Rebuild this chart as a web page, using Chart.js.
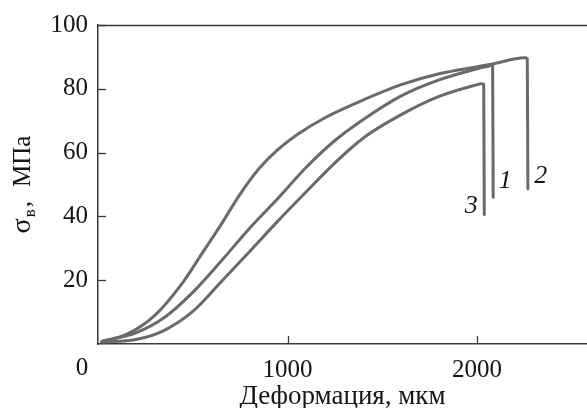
<!DOCTYPE html>
<html>
<head>
<meta charset="utf-8">
<script src="https://cdn.jsdelivr.net/npm/chart.js@4.4.0/dist/chart.umd.min.js"></script>
<style>
  html, body { margin: 0; padding: 0; background: #ffffff; }
  #wrap { width: 587px; height: 408px; }
</style>
</head>
<body>
<div id="wrap"><canvas id="c" width="587" height="408"></canvas></div>
<script>
// ---- data (strain, µm ; stress, MPa) ----
const curveNames = ['1', '2', '3'];
const strain1 = [20, 200, 350, 500, 650, 800, 950, 1100, 1250, 1400, 1600, 1800, 2000, 2066, 2082, 2085];
const stress1 = [0.8, 3.5, 8.3, 16.2, 26, 36.3, 45.7, 55.5, 63.8, 70.4, 77.8, 82.8, 86.3, 87.2, 87.5, 46];
const strain2 = [20, 150, 300, 450, 550, 650, 750, 850, 950, 1050, 1200, 1400, 1600, 1800, 2000, 2082, 2251, 2265, 2268];
const stress2 = [0.8, 3.0, 9.0, 19.5, 28.5, 37.5, 47, 55, 61, 65.6, 71, 76.5, 81.3, 84.7, 86.9, 87.8, 89.7, 89.4, 48.7];
const strain3 = [20, 200, 350, 500, 650, 800, 950, 1100, 1250, 1400, 1600, 1800, 2000, 2020, 2035, 2038];
const stress3 = [0.6, 1.4, 4.3, 10.2, 19.5, 29, 38.6, 47.8, 56.8, 64.6, 71.9, 77.6, 81.3, 81.6, 81.4, 40.6];
const xTicks = [0, 1000, 2000];
const yTicks = [0, 20, 40, 60, 80, 100];
const xTitle = 'Деформация, мкм';
const yTitleMain = 'σ';
const yTitleSub = 'в';
const yTitleComma = ',';
const yTitleUnit = 'МПа';

const AXIS = '#3a3a3a';
const LINE = '#6a6a6a';
const TEXT = '#151515';
const FONT = '"Liberation Serif", "Times New Roman", serif';

function pts(xs, ys) { return xs.map((x, i) => ({ x: x, y: ys[i] })); }

const series = [
  { name: curveNames[0], data: pts(strain1, stress1), lab: [12, -16] },
  { name: curveNames[1], data: pts(strain2, stress2), lab: [13, -12] },
  { name: curveNames[2], data: pts(strain3, stress3), lab: [-13, -8] }
];

const decor = {
  id: 'decor',
  afterDraw(chart) {
    const ctx = chart.ctx, a = chart.chartArea;
    const xs = chart.scales.x, ys = chart.scales.y;
    ctx.save();
    // top frame line
    ctx.strokeStyle = AXIS; ctx.lineWidth = 1.5;
    ctx.beginPath(); ctx.moveTo(a.left, a.top + 0.5); ctx.lineTo(a.right, a.top + 0.5); ctx.stroke();
    // inward ticks
    ctx.lineWidth = 1.3;
    xTicks.forEach(v => {
      if (v === 0) return;
      const px = Math.round(xs.getPixelForValue(v)) + 0.5;
      ctx.beginPath(); ctx.moveTo(px, a.bottom); ctx.lineTo(px, a.bottom - 8); ctx.stroke();
    });
    yTicks.forEach(v => {
      if (v === 0) return;
      const py = Math.round(ys.getPixelForValue(v)) + 0.5;
      ctx.beginPath(); ctx.moveTo(a.left, py); ctx.lineTo(a.left + 8, py); ctx.stroke();
    });
    // origin label "0"
    ctx.fillStyle = TEXT;
    ctx.font = '25px ' + FONT;
    ctx.textAlign = 'center'; ctx.textBaseline = 'middle';
    ctx.fillText('0', xs.getPixelForValue(0) - 16, a.bottom + 24);
    // y title with subscript (rotated)
    ctx.save();
    ctx.translate(30, (a.top + a.bottom) / 2);
    ctx.rotate(-Math.PI / 2);
    const fMain = '25px ' + FONT, fBig = '28px ' + FONT, fSub = '17px ' + FONT;
    ctx.font = fBig; const w1 = ctx.measureText(yTitleMain).width;
    ctx.font = fSub; const w2 = ctx.measureText(yTitleSub).width;
    ctx.font = fMain; const w3 = ctx.measureText(yTitleComma).width;
    const w4 = ctx.measureText(yTitleUnit).width;
    const gap = 14;
    let x0 = -(w1 + 1 + w2 + 2 + w3 + gap + w4) / 2;
    ctx.textAlign = 'left'; ctx.textBaseline = 'alphabetic';
    ctx.font = fBig; ctx.fillText(yTitleMain, x0, 0); x0 += w1 + 1;
    ctx.font = fSub; ctx.fillText(yTitleSub, x0, 5); x0 += w2 + 2;
    ctx.font = fMain; ctx.fillText(yTitleComma, x0, 0); x0 += w3 + gap;
    ctx.fillText(yTitleUnit, x0, 0);
    ctx.restore();
    // curve numbers at the end of each curve
    ctx.font = 'italic 26px ' + FONT;
    ctx.textAlign = 'center'; ctx.textBaseline = 'middle';
    series.forEach(s => {
      const last = s.data[s.data.length - 1];
      const px = xs.getPixelForValue(last.x) + s.lab[0];
      const py = ys.getPixelForValue(last.y) + s.lab[1];
      ctx.fillText(s.name, px, py);
    });
    ctx.restore();
  }
};

new Chart(document.getElementById('c'), {
  type: 'line',
  data: {
    datasets: series.map(s => ({
      label: s.name,
      data: s.data,
      borderColor: LINE,
      borderWidth: 3,
      pointRadius: 0,
      fill: false,
      cubicInterpolationMode: 'monotone',
      borderJoinStyle: 'round',
      borderCapStyle: 'round'
    }))
  },
  options: {
    responsive: false,
    animation: false,
    devicePixelRatio: 1,
    layout: { padding: { top: 24, right: 0, left: 0, bottom: 0 } },
    plugins: { legend: { display: false }, tooltip: { enabled: false } },
    scales: {
      x: {
        type: 'linear', min: 0, max: 2580,
        afterFit(s) { s.height = 64; },
        afterBuildTicks(s) { s.ticks = xTicks.map(v => ({ value: v })); },
        grid: { display: false, drawTicks: false },
        border: { display: true, color: AXIS, width: 1.5 },
        ticks: {
          padding: 11, color: TEXT, font: { family: FONT, size: 25 },
          maxRotation: 0,
          callback: v => (v === 0 ? '' : String(v))
        },
        title: {
          display: true, text: xTitle, color: TEXT,
          font: { family: FONT, size: 27, lineHeight: 0.8 }, padding: { top: 0, bottom: 0 }
        }
      },
      y: {
        type: 'linear', min: 0, max: 100,
        afterFit(s) { s.width = 98; },
        afterBuildTicks(s) { s.ticks = yTicks.map(v => ({ value: v })); },
        grid: { display: false, drawTicks: false },
        border: { display: true, color: AXIS, width: 1.5 },
        ticks: {
          padding: 10, color: TEXT, font: { family: FONT, size: 25 },
          callback: v => (v === 0 ? '' : String(v))
        }
      }
    }
  },
  plugins: [decor]
});
</script>
</body>
</html>
